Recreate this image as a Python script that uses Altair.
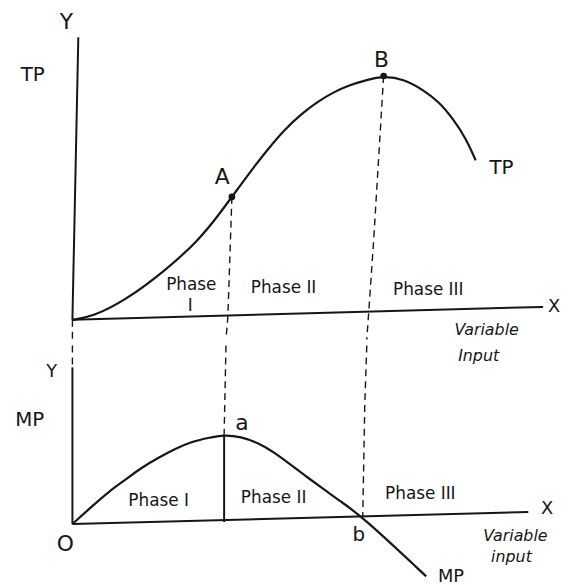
import altair as alt
import pandas as pd

INK = "#161616"
FONT = "DejaVu Sans"

# ---------------- data (input units, output units) ----------------
tp_input = [0, 1.27, 3.44, 5.99, 8.09, 9.36, 10.25, 11.46, 12.55, 13.63, 14.65, 15.73,
            16.82, 17.83, 18.92, 20.0, 21.27, 22.55, 23.57, 24.46, 25.29, 25.92]
tp_output = [0, 0.12, 0.81, 2.03, 3.25, 4.27, 5.04, 6.10, 6.99, 7.80, 8.41, 8.94,
             9.35, 9.63, 9.84, 10.0, 9.88, 9.43, 8.94, 8.25, 7.44, 6.54]

mp_input = [0, 1.27, 2.36, 3.44, 4.46, 5.54, 6.62, 7.64, 8.73, 9.75, 10.83, 11.91,
            12.99, 14.01, 15.1, 16.18, 17.2, 18.6, 22.74]
mp_output = [0, 1.0, 1.83, 2.5, 3.17, 3.72, 4.22, 4.61, 4.83, 5.0, 4.89, 4.56,
             4.0, 3.33, 2.61, 1.94, 1.28, 0.44, -2.94]

point_names = ["A", "B"]
point_input = [10.25, 20.0]
point_output = [5.04, 10.0]

# axes (hand drawn, slightly slanted)
top_axis_x = [[0, 30.25], [0, 0.53]]
top_axis_y = [[0.38, 0], [11.59, 0]]
bot_axis_x = [[0, 29.3], [0, 0.67]]
bot_axis_y = [[0, 0], [8.78, 0]]
bot_a_solid = [[9.75, 9.75], [5.0, 0.11]]

# dashed guides
top_dash = {
    "A": [[10.25, 9.99, 9.87], [5.04, 0.12, -0.81]],
    "B": [[20.0, 19.36, 19.04, 18.92], [10.0, 3.25, 0.28, -0.81]],
    "O": [[0, 0], [0, -0.81]],
}
bot_dash = {
    "a": [[9.87, 9.75], [10.0, 5.0]],
    "b": [[18.92, 18.79, 18.66], [10.0, 6.67, 0.4]],
    "O": [[0, 0], [10.0, 8.78]],
}

top_labels = ["Y", "TP", "A", "B", "TP", "Phase", "I", "Phase II", "Phase III", "X"]
top_lab_x = [-0.38, -2.55, 9.62, 19.87, 27.58, 7.64, 7.58, 13.57, 22.87, 30.96]
top_lab_y = [12.2, 10.04, 5.85, 10.65, 6.22, 1.42, 0.57, 1.30, 1.22, 0.53]
top_lab_fs = [22, 20, 22, 22, 20, 17, 17, 17, 17, 18]

top_it_labels = ["Variable"]
top_it_x = [26.62]
top_it_y = [-0.41]

bot_labels = ["Y", "MP", "O", "a", "b", "Phase I", "Phase II", "Phase III", "X", "MP"]
bot_lab_x = [-1.34, -2.74, -0.45, 10.89, 18.41, 5.54, 12.93, 22.36, 30.51, 24.33]
bot_lab_y = [8.5, 5.83, -1.11, 5.67, -0.61, 1.28, 1.44, 1.67, 0.83, -3.0]
bot_lab_fs = [18, 20, 22, 22, 20, 17, 17, 17, 18, 18]

bot_it_labels = ["Input", "Variable", "input"]
bot_it_x = [26.11, 28.47, 28.22]
bot_it_y = [9.44, -0.67, -1.83]

# ---------------- helpers ----------------
XD = [-4.140, 31.083]
TOP_YD = [-0.813, 12.683]
BOT_YD = [-3.167, 10.0]


def seg_df(segs):
    rows = []
    for name, (xs, ys) in segs.items():
        for i, (xv, yv) in enumerate(zip(xs, ys)):
            rows.append({"grp": name, "seq": i, "x": xv, "y": yv})
    return pd.DataFrame(rows)


def enc(yd):
    return dict(
        x=alt.X("x:Q", scale=alt.Scale(domain=XD, nice=False, zero=False), axis=None),
        y=alt.Y("y:Q", scale=alt.Scale(domain=yd, nice=False, zero=False), axis=None),
    )


def panel(yd, solid, dashed, curve, pts, labels, italic, h):
    e = enc(yd)
    layers = [
        alt.Chart(seg_df(solid)).mark_line(color=INK, strokeWidth=2)
        .encode(**e, detail="grp:N", order="seq:Q"),
        alt.Chart(seg_df(dashed)).mark_line(color=INK, strokeWidth=1.4, strokeDash=[7, 5])
        .encode(**e, detail="grp:N", order="seq:Q"),
        alt.Chart(curve).mark_line(color=INK, strokeWidth=2.2, interpolate="basis")
        .encode(**e, order="seq:Q"),
    ]
    if pts is not None:
        layers.append(alt.Chart(pts).mark_circle(color=INK, size=45, opacity=1).encode(**e))
    layers.append(
        alt.Chart(labels).mark_text(color=INK, font=FONT, baseline="middle", align="center")
        .encode(**e, text="label:N", size=alt.Size("fs:Q", scale=None, legend=None))
    )
    layers.append(
        alt.Chart(italic).mark_text(color=INK, font=FONT, fontSize=16, fontStyle="italic",
                                    baseline="middle", align="center")
        .encode(**e, text="label:N")
    )
    return alt.layer(*layers).properties(width=553, height=h)


tp_df = pd.DataFrame({"x": tp_input, "y": tp_output, "seq": range(len(tp_input))})
mp_df = pd.DataFrame({"x": mp_input, "y": mp_output, "seq": range(len(mp_input))})
pts_df = pd.DataFrame({"label": point_names, "x": point_input, "y": point_output})

top_lab_df = pd.DataFrame({"label": top_labels, "x": top_lab_x, "y": top_lab_y, "fs": top_lab_fs})
bot_lab_df = pd.DataFrame({"label": bot_labels, "x": bot_lab_x, "y": bot_lab_y, "fs": bot_lab_fs})
top_it_df = pd.DataFrame({"label": top_it_labels, "x": top_it_x, "y": top_it_y})
bot_it_df = pd.DataFrame({"label": bot_it_labels, "x": bot_it_x, "y": bot_it_y})

top = panel(TOP_YD, {"xa": top_axis_x, "ya": top_axis_y}, top_dash, tp_df, pts_df,
            top_lab_df, top_it_df, 332)
bottom = panel(BOT_YD, {"xa": bot_axis_x, "ya": bot_axis_y, "as": bot_a_solid}, bot_dash,
               mp_df, None, bot_lab_df, bot_it_df, 237)

chart = (
    alt.vconcat(top, bottom, spacing=0)
    .properties(padding=0, background="white")
    .configure_view(stroke=None)
)

chart.save("out.html", embed_options={"renderer": "svg", "actions": False})
